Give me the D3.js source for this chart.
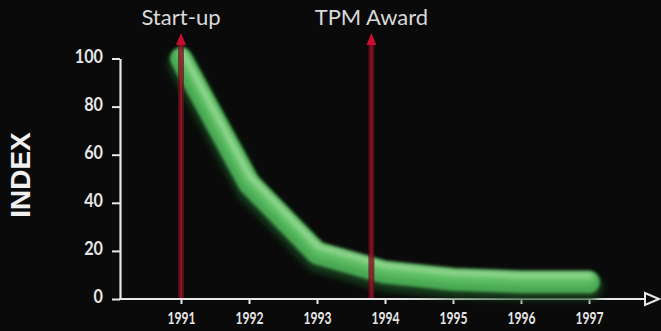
<!DOCTYPE html>
<html>
<head>
<meta charset="utf-8">
<script src="https://cdn.jsdelivr.net/npm/d3@7/dist/d3.min.js"></script>
<style>
  html, body { margin: 0; padding: 0; background: #0a0a0a; }
  svg { display: block; }
</style>
</head>
<body>
<script>
// Index trend, 1991–1997
const years = [1991, 1992, 1993, 1994, 1995, 1996, 1997];
const indexValues = [100, 48, 19, 11, 8, 7, 7];
const yTicks = [0, 20, 40, 60, 80, 100];
const eventLabels = ["Start-up", "TPM Award"];
const eventYears = [1991, 1993.8];

const W = 661, H = 331;
const svg = d3.select("body").append("svg").attr("width", W).attr("height", H);
svg.append("rect").attr("width", W).attr("height", H).attr("fill", "#0a0a0a");

const axisX0 = 120;           // where the y axis stands
const x = d3.scaleLinear().domain([1991, 1997]).range([181, 589]);
const y = d3.scaleLinear().domain([0, 100]).range([299, 58.5]);

const defs = svg.append("defs");
function blur(id, sd) {
  defs.append("filter").attr("id", id)
    .attr("x", "-20%").attr("y", "-20%").attr("width", "140%").attr("height", "140%")
    .append("feGaussianBlur").attr("stdDeviation", sd);
}
blur("bShadow", 3.5);
blur("bMain", 1.6);
blur("bHi", 2.4);
blur("bSoft", 0.6);

const labelFont = "Lato, 'Open Sans', 'DejaVu Sans', sans-serif";

// ---- y axis
const yAxis = svg.append("g")
  .attr("transform", `translate(${axisX0},0)`)
  .call(d3.axisLeft(y).tickValues(yTicks).tickSize(8).tickPadding(9).tickSizeOuter(0));
yAxis.select(".domain").attr("stroke", "#e8e8e8").attr("stroke-width", 2.2);
yAxis.selectAll(".tick line").attr("stroke", "#e8e8e8").attr("stroke-width", 2);
yAxis.selectAll(".tick text")
  .attr("fill", "#e6e6e6")
  .attr("font-family", labelFont)
  .attr("font-weight", 700)
  .attr("font-size", 18)
  .attr("dy", "0.2em")
  .attr("textLength", d => String(d).length * 9.4)
  .attr("lengthAdjust", "spacingAndGlyphs");

// ---- x axis
const xAxis = svg.append("g")
  .attr("transform", `translate(0,${y(0)})`)
  .call(d3.axisBottom(x).tickValues(years).tickFormat(d3.format("d")).tickSize(5).tickPadding(8).tickSizeOuter(0));
xAxis.select(".domain").remove();
xAxis.selectAll(".tick line").attr("stroke", "#e8e8e8").attr("stroke-width", 2);
xAxis.selectAll(".tick text")
  .attr("fill", "#e6e6e6")
  .attr("font-family", labelFont)
  .attr("font-weight", 700)
  .attr("font-size", 17)
  .attr("textLength", 28)
  .attr("lengthAdjust", "spacingAndGlyphs");

// axis baseline with open arrowhead
const arrowBase = 645, arrowTip = 659;
svg.append("line")
  .attr("x1", axisX0 - 1).attr("x2", arrowBase)
  .attr("y1", y(0)).attr("y2", y(0))
  .attr("stroke", "#e8e8e8").attr("stroke-width", 2.2);
svg.append("path")
  .attr("d", `M${arrowBase},${y(0) - 6}L${arrowTip},${y(0)}L${arrowBase},${y(0) + 6}Z`)
  .attr("fill", "none").attr("stroke", "#e8e8e8").attr("stroke-width", 2);

// ---- y axis title
svg.append("text")
  .attr("transform", "translate(30,175) rotate(-90)")
  .attr("text-anchor", "middle")
  .attr("font-family", "'Liberation Sans', Arial, sans-serif")
  .attr("font-weight", 700)
  .attr("font-size", 28)
  .attr("fill", "#f0f0f0")
  .text("INDEX");

// ---- index line as a glowing green tube
const pts = years.map((yr, i) => [x(yr), y(indexValues[i])]);
const line = d3.line();
const tube = svg.append("g")
  .attr("fill", "none")
  .attr("stroke-linecap", "round")
  .attr("stroke-linejoin", "round");
tube.append("path").attr("d", line(pts))
  .attr("transform", "translate(0,5)")
  .attr("stroke", "#173d1c").attr("stroke-width", 26).attr("filter", "url(#bShadow)");
tube.append("path").attr("d", line(pts))
  .attr("stroke", "#4aa852").attr("stroke-width", 22).attr("filter", "url(#bMain)");
tube.append("path").attr("d", line(pts))
  .attr("transform", "translate(1,-3)")
  .attr("stroke", "#62c468").attr("stroke-width", 13).attr("opacity", 0.8).attr("filter", "url(#bHi)");
tube.append("path").attr("d", line(pts))
  .attr("transform", "translate(1,-7)")
  .attr("stroke", "#b8e8b0").attr("stroke-width", 5).attr("opacity", 0.7).attr("filter", "url(#bHi)");
tube.append("path").attr("d", line([pts[0], pts[0]]))
  .attr("transform", "translate(-3,-3)")
  .attr("stroke", "#eef8e0").attr("stroke-width", 12).attr("opacity", 0.8).attr("filter", "url(#bHi)");

// ---- event markers
const tipY = 33, headY = 45;
const ev = svg.append("g");
eventYears.forEach((yr, i) => {
  const ex = x(yr);
  const g = ev.append("g").attr("filter", "url(#bSoft)");
  g.append("line")
    .attr("x1", ex).attr("x2", ex).attr("y1", headY - 1).attr("y2", y(0) - 1)
    .attr("stroke", "#6e0d1e").attr("stroke-width", 6).attr("opacity", 0.75);
  g.append("line")
    .attr("x1", ex).attr("x2", ex).attr("y1", headY - 1).attr("y2", y(0) - 1)
    .attr("stroke", "#b01a34").attr("stroke-width", 2).attr("opacity", 0.55);
  g.append("path")
    .attr("d", `M${ex},${tipY}L${ex + 5},${headY}L${ex - 5},${headY}Z`)
    .attr("fill", "#c8102e");
  svg.append("text")
    .attr("x", ex).attr("y", 25)
    .attr("text-anchor", "middle")
    .attr("font-family", labelFont)
    .attr("font-size", 21)
    .attr("fill", "#d9d9d9")
    .attr("textLength", eventLabels[i].length * (i === 0 ? 9.9 : 12.6))
    .attr("lengthAdjust", "spacingAndGlyphs")
    .text(eventLabels[i]);
});
</script>
</body>
</html>
